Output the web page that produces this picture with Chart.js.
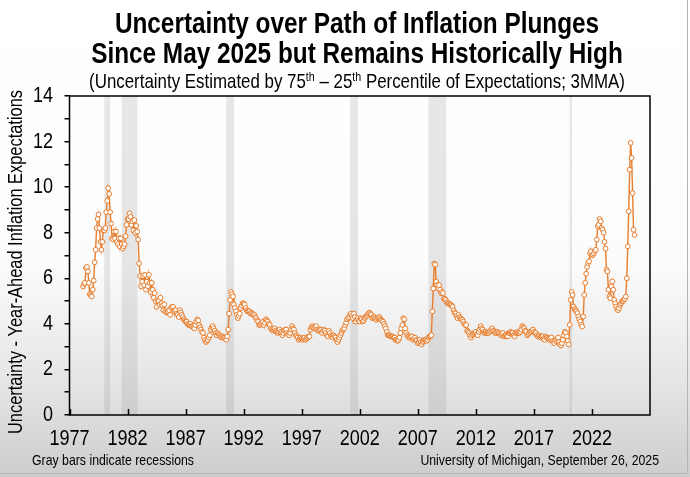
<!DOCTYPE html>
<html>
<head>
<meta charset="utf-8">
<script src="https://cdn.jsdelivr.net/npm/chart.js@4.4.1/dist/chart.umd.min.js"></script>
<style>
  html, body { margin: 0; padding: 0; background: #fff; }
  #wrap { position: relative; width: 690px; height: 477px; overflow: hidden; }
</style>
</head>
<body>
<div id="wrap"><canvas id="myChart" width="690" height="477"></canvas></div>
<script>
// no Arial Narrow here, so Liberation Sans gets squeezed to the same width
const FONT = '"Liberation Sans", Arial, sans-serif';
const NARROW = 0.82;

// monthly 3MMA, first value is March 1978
const startYear = 1978;
const startMonth = 3;
const uncertainty = [
    5.64, 5.75, 5.8, 6.45, 6.5, 6.3, 5.8, 5.3, 5.25, 5.2,                 // 1978
    5.5, 5.9, 6.7, 7.25, 8.2, 8.6, 8.8, 8.2, 7.6, 7.25, 7.6, 8.1,         // 1979
    8.1, 8.2, 8.9, 9.4, 9.95, 9.7, 8.9, 8.4, 7.75, 7.7, 8.05, 7.75,       // 1980
    8.05, 7.6, 7.5, 7.75, 7.4, 7.75, 7.5, 7.3, 7.4, 7.5, 7.85, 8.35,      // 1981
    8.6, 8.6, 8.85, 8.7, 8.35, 8.5, 8.1, 8.55, 8.0, 8.3, 8.05, 7.7,       // 1982
    6.65, 6.1, 5.65, 5.85, 6.1, 5.7, 6.15, 5.5, 5.85, 5.65, 6.15, 5.8,    // 1983
    5.4, 5.8, 5.5, 5.15, 5.35, 5.0, 4.75, 5.05, 5.0, 4.85, 5.15, 4.9,     // 1984
    4.8, 4.6, 4.85, 4.55, 4.5, 4.5, 4.55, 4.6, 4.4, 4.7, 4.75, 4.75,      // 1985
    4.55, 4.6, 4.6, 4.45, 4.4, 4.3, 4.6, 4.5, 4.4, 4.3, 4.2, 4.15,        // 1986
    4.1, 4.1, 4.0, 3.95, 3.95, 4.0, 3.9, 3.9, 3.85, 3.8, 3.95, 4.1,       // 1987
    4.2, 4.15, 3.95, 3.85, 3.75, 3.65, 3.6, 3.4, 3.3, 3.2, 3.25, 3.3,     // 1988
    3.4, 3.5, 3.75, 3.85, 3.9, 3.8, 3.7, 3.6, 3.5, 3.6, 3.55, 3.5,        // 1989
    3.45, 3.4, 3.45, 3.4, 3.4, 3.35, 3.3, 3.45, 3.75, 4.45, 5.05, 5.4,    // 1990
    5.3, 5.2, 4.85, 4.7, 4.55, 4.4, 4.25, 4.35, 4.45, 4.7, 4.8, 4.9,      // 1991
    4.9, 4.85, 4.7, 4.6, 4.55, 4.55, 4.55, 4.45, 4.5, 4.45, 4.4, 4.4,     // 1992
    4.3, 4.25, 4.15, 4.1, 3.95, 3.95, 4.0, 4.05, 4.1, 3.95, 4.05, 4.2,    // 1993
    4.15, 4.1, 4.0, 3.95, 3.8, 3.75, 3.7, 3.75, 3.8, 3.7, 3.65, 3.6,      // 1994
    3.65, 3.75, 3.65, 3.6, 3.5, 3.6, 3.7, 3.75, 3.75, 3.6, 3.55, 3.5,     // 1995
    3.6, 3.75, 3.9, 3.8, 3.75, 3.6, 3.5, 3.45, 3.4, 3.3, 3.35, 3.4,       // 1996
    3.35, 3.3, 3.35, 3.4, 3.3, 3.35, 3.4, 3.45, 3.45, 3.75, 3.85, 3.9,    // 1997
    3.85, 3.8, 3.85, 3.9, 3.75, 3.7, 3.7, 3.75, 3.75, 3.6, 3.7, 3.75,     // 1998
    3.7, 3.6, 3.5, 3.45, 3.7, 3.6, 3.5, 3.45, 3.4, 3.5, 3.45, 3.4,        // 1999
    3.3, 3.2, 3.3, 3.4, 3.5, 3.6, 3.7, 3.75, 3.8, 3.95, 4.05, 4.2,        // 2000
    4.25, 4.3, 4.4, 4.45, 4.35, 4.25, 4.45, 4.3, 4.1, 4.2, 4.25, 4.15,    // 2001
    4.1, 4.25, 4.2, 4.1, 4.15, 4.25, 4.3, 4.35, 4.4, 4.45, 4.5, 4.45,     // 2002
    4.4, 4.25, 4.3, 4.3, 4.25, 4.18, 4.25, 4.28, 4.3, 4.25, 4.18, 4.15,   // 2003
    4.1, 4.0, 3.9, 3.8, 3.65, 3.5, 3.5, 3.5, 3.45, 3.45, 3.45, 3.4,       // 2004
    3.4, 3.3, 3.3, 3.25, 3.3, 3.4, 3.6, 3.8, 3.95, 4.25, 4.2, 3.8,        // 2005
    3.6, 3.5, 3.45, 3.4, 3.4, 3.45, 3.45, 3.3, 3.35, 3.4, 3.3, 3.25,      // 2006
    3.15, 3.2, 3.3, 3.2, 3.1, 3.2, 3.25, 3.3, 3.3, 3.25, 3.3, 3.4,        // 2007
    3.45, 3.45, 3.5, 4.55, 5.55, 6.65, 6.6, 5.85, 5.7, 5.55, 5.7, 5.5,    // 2008
    5.35, 5.4, 5.35, 5.1, 5.1, 5.05, 4.95, 4.9, 4.9, 4.85, 4.85, 4.8,     // 2009
    4.75, 4.6, 4.5, 4.45, 4.35, 4.25, 4.4, 4.3, 4.25, 4.2, 4.18, 4.1,     // 2010
    4.0, 3.95, 3.95, 3.7, 3.65, 3.6, 3.5, 3.4, 3.5, 3.55, 3.6, 3.6,       // 2011
    3.65, 3.55, 3.5, 3.65, 3.75, 3.9, 3.8, 3.75, 3.65, 3.6, 3.65, 3.6,    // 2012
    3.6, 3.6, 3.65, 3.7, 3.75, 3.8, 3.7, 3.65, 3.6, 3.6, 3.65, 3.6,       // 2013
    3.6, 3.55, 3.5, 3.55, 3.6, 3.45, 3.5, 3.5, 3.45, 3.45, 3.6, 3.6,      // 2014
    3.65, 3.6, 3.6, 3.5, 3.45, 3.6, 3.6, 3.65, 3.6, 3.6, 3.65, 3.75,      // 2015
    3.9, 3.85, 3.8, 3.7, 3.65, 3.5, 3.55, 3.6, 3.65, 3.65, 3.7, 3.75,     // 2016
    3.65, 3.6, 3.6, 3.5, 3.45, 3.5, 3.45, 3.4, 3.45, 3.45, 3.35, 3.3,     // 2017
    3.45, 3.4, 3.4, 3.35, 3.3, 3.35, 3.4, 3.25, 3.2, 3.15, 3.25, 3.3,     // 2018
    3.35, 3.4, 3.2, 3.1, 3.05, 3.15, 3.3, 3.5, 3.65, 3.6, 3.45, 3.25,     // 2019
    3.1, 3.96, 5.05, 5.4, 5.27, 4.76, 4.65, 4.6, 4.55, 4.47, 4.32, 4.2,   // 2020
    4.1, 3.96, 3.88, 4.32, 5.27, 5.8, 6.2, 6.5, 6.67, 6.74, 7.1, 7.18,    // 2021
    7.0, 7.03, 7.1, 7.2, 7.25, 7.7, 8.28, 8.35, 8.6, 8.5, 8.2, 8.13,      // 2022
    8.0, 7.6, 7.3, 6.37, 6.3, 5.5, 5.2, 5.13, 5.64, 5.86, 5.5, 5.05,      // 2023
    4.9, 4.76, 4.65, 4.6, 4.69, 4.83, 4.9, 4.98, 5.0, 5.05, 5.1, 5.2,     // 2024
    6.0, 7.4, 8.94, 10.77, 11.94, 11.28, 9.74, 8.13, 7.9                  // 2025
];

// NBER recessions, start / end in decimal years
const recessions = [
    [1980.0, 1980.5],
    [1981.5, 1982.85],
    [1990.5, 1991.17],
    [2001.17, 2001.85],
    [2007.92, 2009.45],
    [2020.08, 2020.28]
];

const xTicks = [1977, 1982, 1987, 1992, 1997, 2002, 2007, 2012, 2017, 2022];
const yTicks = [0, 1, 2, 3, 4, 5, 6, 7, 8, 9, 10, 11, 12, 13, 14];
const yLabels = [0, 2, 4, 6, 8, 10, 12, 14];

const titleLines = [
    'Uncertainty over Path of Inflation Plunges',
    'Since May 2025 but Remains Historically High'
];
const subtitleParts = [
    ['(Uncertainty Estimated by 75', false],
    ['th', true],
    [' \u2013 25', false],
    ['th', true],
    [' Percentile of Expectations; 3MMA)', false]
];
const yTitle = 'Uncertainty - Year-Ahead Inflation Expectations';
const footLeft = 'Gray bars indicate recessions';
const footRight = 'University of Michigan, September 26, 2025';

const ORANGE = '#e77d2c';

const points = uncertainty.map((v, i) => ({
    x: startYear + (startMonth - 1 + i) / 12,
    y: v
}));

// draw text squeezed horizontally, like Arial Narrow
function narrowText(ctx, text, x, y, font, align, baseline) {
    ctx.save();
    ctx.font = font;
    ctx.textAlign = align || 'left';
    ctx.textBaseline = baseline || 'alphabetic';
    ctx.translate(x, y);
    ctx.scale(NARROW, 1);
    ctx.fillText(text, 0, 0);
    ctx.restore();
}

function narrowWidth(ctx, text, font) {
    ctx.save();
    ctx.font = font;
    const w = ctx.measureText(text).width * NARROW;
    ctx.restore();
    return w;
}

const decor = {
    id: 'decor',
    beforeDraw(chart) {
        const { ctx, width, height } = chart;
        const g = ctx.createLinearGradient(0, 0, 0, height);
        g.addColorStop(0, '#ffffff');
        g.addColorStop(0.55, '#fcfcfc');
        g.addColorStop(0.8, '#e5e5e5');
        g.addColorStop(1, '#cdcdcd');
        ctx.save();
        ctx.fillStyle = g;
        ctx.fillRect(0, 0, width, height);
        ctx.restore();
    },
    beforeDatasetsDraw(chart) {
        const { ctx, chartArea: a, scales: { x } } = chart;
        ctx.save();
        ctx.fillStyle = 'rgba(150,150,150,0.22)';
        recessions.forEach(([s, e]) => {
            const x1 = x.getPixelForValue(s);
            const x2 = x.getPixelForValue(e);
            ctx.fillRect(x1, a.top, x2 - x1, a.bottom - a.top);
        });
        ctx.restore();
    },
    afterDraw(chart) {
        const { ctx, chartArea: a, scales: { x, y } } = chart;
        ctx.save();

        // plot frame
        ctx.strokeStyle = '#000';
        ctx.lineWidth = 1.5;
        ctx.strokeRect(a.left, a.top, a.right - a.left, a.bottom - a.top);

        // x tick marks point into the plot
        ctx.beginPath();
        xTicks.forEach(v => {
            const px = Math.round(x.getPixelForValue(v)) + 0.5;
            ctx.moveTo(px, a.bottom);
            ctx.lineTo(px, a.bottom - 6);
        });
        ctx.stroke();

        ctx.fillStyle = '#000';

        // tick labels
        const tickFont = '22px ' + FONT;
        xTicks.forEach(v => {
            narrowText(ctx, String(v), x.getPixelForValue(v), 445, tickFont, 'center');
        });
        yLabels.forEach(v => {
            narrowText(ctx, String(v), 53, y.getPixelForValue(v), tickFont, 'right', 'middle');
        });

        // y axis title
        ctx.save();
        ctx.translate(16, 262);
        ctx.rotate(-Math.PI / 2);
        narrowText(ctx, yTitle, 0, 0, '20px ' + FONT, 'center', 'middle');
        ctx.restore();

        // titles
        const cx = 357;
        titleLines.forEach((t, i) => {
            narrowText(ctx, t, cx, 33 + i * 30, 'bold 29.7px ' + FONT, 'center');
        });

        // subtitle with raised "th"
        const big = '20.6px ' + FONT;
        const small = '13px ' + FONT;
        let total = 0;
        subtitleParts.forEach(([t, sup]) => { total += narrowWidth(ctx, t, sup ? small : big); });
        let sx = cx - total / 2;
        subtitleParts.forEach(([t, sup]) => {
            const f = sup ? small : big;
            narrowText(ctx, t, sx, sup ? 81 : 88, f, 'left');
            sx += narrowWidth(ctx, t, f);
        });

        // footer notes
        narrowText(ctx, footLeft, 32, 465, '15px ' + FONT, 'left');
        narrowText(ctx, footRight, 659, 465, '15px ' + FONT, 'right');

        // outer frame of the slide
        ctx.strokeStyle = '#b4b4b4';
        ctx.lineWidth = 1;
        ctx.beginPath();
        ctx.moveTo(687.5, 0);
        ctx.lineTo(687.5, 473.5);
        ctx.lineTo(0, 473.5);
        ctx.stroke();
        ctx.restore();
    }
};

const config = {
    type: 'line',
    data: {
        datasets: [{
            label: 'Uncertainty',
            data: points,
            borderColor: ORANGE,
            borderWidth: 1.4,
            pointRadius: 2.4,
            pointBorderWidth: 1,
            pointBackgroundColor: '#ffffff',
            pointBorderColor: ORANGE,
            tension: 0
        }]
    },
    options: {
        responsive: false,
        animation: false,
        layout: {
            padding: { top: 96, right: 40, left: 0, bottom: 0 }
        },
        scales: {
            x: {
                type: 'linear',
                min: 1977,
                max: 2027,
                afterBuildTicks: axis => { axis.ticks = xTicks.map(v => ({ value: v })); },
                afterFit: scale => { scale.height = 62; },
                grid: { display: false, drawTicks: false },
                border: { display: false },
                ticks: { display: false }
            },
            y: {
                min: 0,
                max: 14,
                afterBuildTicks: axis => { axis.ticks = yTicks.map(v => ({ value: v })); },
                afterFit: scale => { scale.width = 69.5; },
                grid: {
                    drawOnChartArea: false,
                    drawTicks: true,
                    tickLength: 5,
                    color: '#000',
                    lineWidth: 1.5
                },
                border: { display: false },
                ticks: { display: false }
            }
        },
        plugins: {
            legend: { display: false },
            tooltip: { enabled: false }
        }
    },
    plugins: [decor]
};

const context = document.getElementById('myChart').getContext('2d');
const myChart = new Chart(context, config);
</script>
</body>
</html>
